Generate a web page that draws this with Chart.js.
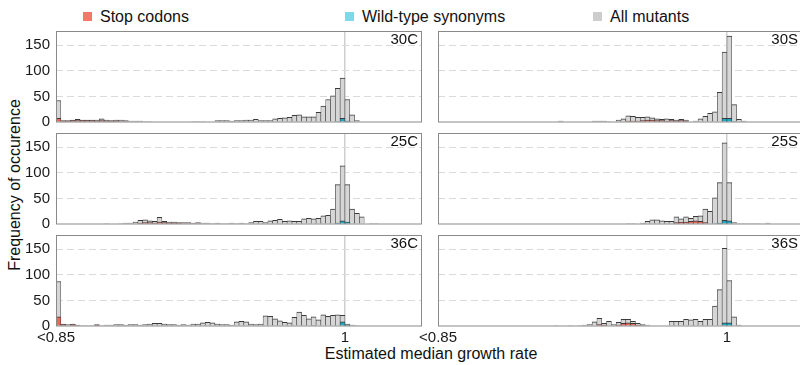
<!DOCTYPE html>
<html>
<head>
<meta charset="utf-8">
<title>Estimated median growth rate histograms</title>
<script src="https://cdn.jsdelivr.net/npm/chart.js@4.4.1/dist/chart.umd.min.js"></script>
<style>
  html, body { margin: 0; padding: 0; background: #fff; }
  body { position: relative; width: 800px; height: 365px; overflow: hidden;
         font-family: 'Liberation Sans', Arial, Helvetica, sans-serif; color: #111; }
  canvas { position: absolute; }
  .key { position: absolute; top: 8px; font-size: 16px; line-height: 18px; white-space: nowrap; }
  .key i { display: inline-block; width: 9px; height: 9px; margin-right: 8px; vertical-align: 1px; }
  .tag { position: absolute; width: 40px; font-size: 15px; line-height: 16px; text-align: right; }
  #ytitle { position: absolute; left: 15px; top: 185px; font-size: 16px; white-space: nowrap;
            transform: translate(-50%, -50%) rotate(-90deg); }
  #xtitle { position: absolute; left: 431px; top: 354px; font-size: 16px; white-space: nowrap;
            transform: translate(-50%, -50%); }
</style>
</head>
<body>
<div id="ytitle">Frequency of occurence</div>
<div id="xtitle">Estimated median growth rate</div>
<script>
// histogram bins: 0.0025 wide from 0.85 (first bin holds everything below 0.85)
const binStart = 0.85;
const binWidth = 0.0025;
const xMax = 1.04;
const xTicks = [0.85, 1];
const xTickLabels = ['<0.85', '1'];
const yTicks = [0, 50, 100, 150];
const yMax = 178;
const seriesNames = ['Stop codons', 'Wild-type synonyms', 'All mutants'];

// counts per bin (76 bins)
const allMutants30C = [
  42, 3, 3, 4, 5, 4, 4, 4, 4, 6,
  4, 3, 4, 4, 3, 2, 2, 2, 1, 1,
  0, 0, 0, 0, 0, 0, 0, 0, 1, 1,
  1, 0, 0, 3, 3, 3, 2, 3, 3, 4,
  4, 5, 3, 3, 3, 6, 7, 8, 9, 13,
  14, 10, 10, 10, 19, 31, 44, 51, 66, 86,
  44, 14, 3, 0, 0, 0, 0, 0, 0, 0,
  0, 0, 0, 0, 0, 0];
const stopCodons30C = [
  7, 2, 2, 3, 3, 3, 3, 3, 2, 3,
  2, 2, 2, 1, 1, 0, 0, 0, 0, 0,
  0, 0, 0, 0, 0, 0, 0, 0, 0, 0,
  0, 0, 0, 0, 0, 0, 0, 0, 0, 0,
  0, 0, 0, 0, 0, 0, 0, 0, 0, 0,
  0, 0, 0, 0, 0, 0, 0, 0, 0, 0,
  0, 0, 0, 0, 0, 0, 0, 0, 0, 0,
  0, 0, 0, 0, 0, 0];
const wildType30C = [
  0, 0, 0, 0, 0, 0, 0, 0, 0, 0,
  0, 0, 0, 0, 0, 0, 0, 0, 0, 0,
  0, 0, 0, 0, 0, 0, 0, 0, 0, 0,
  0, 0, 0, 0, 0, 0, 0, 0, 0, 0,
  0, 0, 0, 0, 0, 0, 0, 0, 0, 0,
  0, 0, 0, 0, 0, 0, 0, 0, 1, 7,
  2, 0, 0, 0, 0, 0, 0, 0, 0, 0,
  0, 0, 0, 0, 0, 0];

const allMutants30S = [
  0, 0, 0, 0, 0, 0, 0, 0, 0, 0,
  0, 0, 0, 0, 0, 0, 0, 0, 0, 0,
  0, 0, 0, 0, 0, 2, 0, 0, 0, 0,
  0, 0, 2, 2, 2, 1, 0, 4, 6, 12,
  11, 9, 9, 10, 8, 6, 5, 6, 5, 4,
  5, 4, 0, 2, 6, 11, 17, 20, 58, 137,
  168, 34, 5, 2, 0, 0, 0, 0, 0, 0,
  0, 0, 0, 0, 0, 0];
const stopCodons30S = [
  0, 0, 0, 0, 0, 0, 0, 0, 0, 0,
  0, 0, 0, 0, 0, 0, 0, 0, 0, 0,
  0, 0, 0, 0, 0, 0, 0, 0, 0, 0,
  0, 0, 0, 0, 0, 0, 0, 0, 0, 2,
  2, 2, 3, 4, 4, 3, 3, 2, 3, 2,
  3, 2, 0, 0, 0, 0, 0, 0, 0, 0,
  0, 0, 0, 0, 0, 0, 0, 0, 0, 0,
  0, 0, 0, 0, 0, 0];
const wildType30S = [
  0, 0, 0, 0, 0, 0, 0, 0, 0, 0,
  0, 0, 0, 0, 0, 0, 0, 0, 0, 0,
  0, 0, 0, 0, 0, 0, 0, 0, 0, 0,
  0, 0, 0, 0, 0, 0, 0, 0, 0, 0,
  0, 0, 0, 0, 0, 0, 0, 0, 0, 0,
  0, 0, 0, 0, 0, 0, 0, 0, 0, 7,
  7, 1, 0, 0, 0, 0, 0, 0, 0, 0,
  0, 0, 0, 0, 0, 0];

const allMutants25C = [
  0, 0, 0, 0, 0, 0, 0, 0, 0, 0,
  1, 0, 0, 1, 2, 2, 4, 7, 8, 6,
  5, 13, 5, 4, 4, 3, 3, 3, 2, 3,
  2, 2, 1, 2, 1, 1, 2, 1, 2, 1,
  3, 5, 5, 3, 6, 7, 9, 5, 6, 5,
  5, 10, 11, 10, 11, 16, 17, 29, 77, 114,
  77, 29, 21, 14, 0, 1, 1, 0, 0, 0,
  0, 0, 0, 0, 0, 0];
const stopCodons25C = [
  0, 0, 0, 0, 0, 0, 0, 0, 0, 0,
  0, 0, 0, 0, 0, 0, 0, 2, 3, 3,
  2, 4, 3, 2, 2, 2, 1, 1, 1, 1,
  0, 0, 0, 0, 0, 0, 0, 0, 0, 0,
  0, 0, 0, 0, 0, 0, 0, 0, 0, 0,
  0, 0, 0, 0, 0, 0, 0, 0, 0, 0,
  0, 0, 0, 0, 0, 0, 0, 0, 0, 0,
  0, 0, 0, 0, 0, 0];
const wildType25C = [
  0, 0, 0, 0, 0, 0, 0, 0, 0, 0,
  0, 0, 0, 0, 0, 0, 0, 0, 0, 0,
  0, 0, 0, 0, 0, 0, 0, 0, 0, 0,
  0, 0, 0, 0, 0, 0, 0, 0, 0, 0,
  0, 0, 0, 0, 0, 0, 0, 0, 0, 0,
  0, 0, 0, 0, 0, 0, 0, 0, 2, 6,
  4, 0, 0, 0, 0, 0, 0, 0, 0, 0,
  0, 0, 0, 0, 0, 0];

const allMutants25S = [
  0, 0, 0, 0, 0, 0, 0, 0, 0, 0,
  0, 0, 0, 0, 0, 0, 0, 0, 0, 0,
  0, 0, 0, 0, 0, 0, 0, 0, 0, 0,
  0, 0, 0, 0, 0, 0, 0, 0, 0, 1,
  1, 0, 2, 5, 8, 8, 6, 5, 5, 14,
  10, 14, 11, 15, 16, 29, 25, 51, 81, 159,
  81, 3, 1, 1, 1, 1, 1, 0, 2, 0,
  0, 0, 0, 0, 0, 0];
const stopCodons25S = [
  0, 0, 0, 0, 0, 0, 0, 0, 0, 0,
  0, 0, 0, 0, 0, 0, 0, 0, 0, 0,
  0, 0, 0, 0, 0, 0, 0, 0, 0, 0,
  0, 0, 0, 0, 0, 0, 0, 0, 0, 0,
  0, 0, 0, 0, 0, 0, 0, 0, 0, 3,
  4, 4, 5, 6, 5, 3, 0, 0, 0, 0,
  0, 0, 0, 0, 0, 0, 0, 0, 0, 0,
  0, 0, 0, 0, 0, 0];
const wildType25S = [
  0, 0, 0, 0, 0, 0, 0, 0, 0, 0,
  0, 0, 0, 0, 0, 0, 0, 0, 0, 0,
  0, 0, 0, 0, 0, 0, 0, 0, 0, 0,
  0, 0, 0, 0, 0, 0, 0, 0, 0, 0,
  0, 0, 0, 0, 0, 0, 0, 0, 0, 0,
  0, 0, 0, 0, 0, 0, 0, 1, 2, 7,
  6, 0, 0, 0, 0, 0, 0, 0, 0, 0,
  0, 0, 0, 0, 0, 0];

const allMutants36C = [
  87, 4, 3, 4, 2, 1, 1, 1, 3, 1,
  2, 2, 3, 3, 2, 3, 3, 2, 3, 4,
  5, 5, 4, 3, 3, 2, 3, 2, 4, 4,
  6, 7, 6, 4, 3, 3, 2, 8, 9, 8,
  4, 3, 4, 20, 19, 14, 10, 7, 6, 17,
  27, 21, 14, 18, 12, 22, 19, 21, 22, 21,
  4, 2, 1, 0, 0, 0, 0, 0, 0, 0,
  0, 0, 0, 0, 0, 0];
const stopCodons36C = [
  18, 3, 0, 3, 1, 0, 0, 0, 2, 0,
  0, 0, 0, 0, 0, 0, 0, 0, 0, 0,
  0, 0, 0, 0, 0, 0, 0, 0, 0, 0,
  0, 0, 0, 0, 0, 0, 0, 0, 0, 0,
  0, 0, 0, 0, 0, 0, 0, 0, 0, 0,
  0, 0, 0, 0, 0, 0, 0, 0, 0, 0,
  0, 0, 0, 0, 0, 0, 0, 0, 0, 0,
  0, 0, 0, 0, 0, 0];
const wildType36C = [
  0, 0, 0, 0, 0, 0, 0, 0, 0, 0,
  0, 0, 0, 0, 0, 0, 0, 0, 0, 0,
  0, 0, 0, 0, 0, 0, 0, 0, 0, 0,
  0, 0, 0, 0, 0, 0, 0, 0, 0, 0,
  0, 0, 0, 0, 0, 0, 0, 0, 0, 0,
  0, 0, 0, 1, 0, 0, 0, 0, 0, 8,
  2, 0, 0, 0, 0, 0, 0, 0, 0, 0,
  0, 0, 0, 0, 0, 0];

const allMutants36S = [
  0, 0, 0, 0, 0, 0, 0, 0, 0, 0,
  0, 0, 0, 0, 0, 0, 0, 0, 0, 0,
  0, 0, 0, 0, 1, 0, 0, 1, 0, 1,
  2, 3, 8, 15, 5, 9, 3, 7, 13, 13,
  9, 5, 3, 2, 0, 0, 0, 0, 9, 9,
  9, 13, 12, 13, 9, 13, 13, 39, 71, 152,
  89, 18, 2, 0, 0, 0, 0, 0, 0, 0,
  0, 0, 0, 0, 0, 0];
const stopCodons36S = [
  0, 0, 0, 0, 0, 0, 0, 0, 0, 0,
  0, 0, 0, 0, 0, 0, 0, 0, 0, 0,
  0, 0, 0, 0, 0, 0, 0, 0, 0, 0,
  0, 0, 0, 3, 2, 0, 0, 2, 5, 6,
  5, 2, 1, 0, 0, 0, 0, 0, 0, 0,
  0, 0, 0, 0, 0, 0, 0, 0, 0, 0,
  0, 0, 0, 0, 0, 0, 0, 0, 0, 0,
  0, 0, 0, 0, 0, 0];
const wildType36S = [
  0, 0, 0, 0, 0, 0, 0, 0, 0, 0,
  0, 0, 0, 0, 0, 0, 0, 0, 0, 0,
  0, 0, 0, 0, 0, 0, 0, 0, 0, 0,
  0, 0, 0, 0, 0, 0, 0, 0, 0, 0,
  0, 0, 0, 0, 0, 0, 0, 0, 0, 0,
  0, 0, 0, 0, 0, 0, 0, 0, 0, 6,
  6, 0, 0, 0, 0, 0, 0, 0, 0, 0,
  0, 0, 0, 0, 0, 0];

const panels = [
  { name: '30C', row: 0, col: 0, all: allMutants30C, stop: stopCodons30C, wt: wildType30C },
  { name: '30S', row: 0, col: 1, all: allMutants30S, stop: stopCodons30S, wt: wildType30S },
  { name: '25C', row: 1, col: 0, all: allMutants25C, stop: stopCodons25C, wt: wildType25C },
  { name: '25S', row: 1, col: 1, all: allMutants25S, stop: stopCodons25S, wt: wildType25S },
  { name: '36C', row: 2, col: 0, all: allMutants36C, stop: stopCodons36C, wt: wildType36C },
  { name: '36S', row: 2, col: 1, all: allMutants36S, stop: stopCodons36S, wt: wildType36S },
];

const fills = ['#e8685a', '#1ea8c1', '#d6d6d6'];
const keyColors = ['#f7776b', '#7fd8e8', '#cdcdcd'];
const edgeColor = '#3a3a3a';
const fontFamily = "'Liberation Sans', Arial, Helvetica, sans-serif";

// layout (pixels)
const plotTops = [31, 133, 235];
const plotHeight = 91;
const padTop = 16;
const cols = [
  { left: 0, width: 430, axisWidth: 56, padRight: 8, showY: true, tagRight: 418 },
  { left: 410, width: 400, axisWidth: 28, padRight: 6, showY: false, tagRight: 798 },
];
const keyLefts = [83, 345, 593];

const binCenters = allMutants30C.map((_, i) => +(binStart + binWidth * (i + 0.5)).toFixed(5));

function toPoints(counts) {
  return counts.map((v, i) => ({ x: binCenters[i], y: v > 0 ? v : null }));
}

// legend
seriesNames.forEach((name, i) => {
  const key = document.createElement('div');
  key.className = 'key';
  key.style.left = keyLefts[i] + 'px';
  key.innerHTML = '<i style="background:' + keyColors[i] + '"></i>' + name;
  document.body.appendChild(key);
});

const panelFrame = {
  id: 'panelFrame',
  afterDraw(chart) {
    const { ctx, chartArea: a } = chart;
    ctx.save();
    ctx.strokeStyle = '#8a8a8a';
    ctx.lineWidth = 1;
    ctx.strokeRect(Math.round(a.left) + 0.5, Math.round(a.top) + 0.5,
                   Math.round(a.right - a.left) - 1, Math.round(a.bottom - a.top) - 0.5);
    ctx.restore();
  }
};

panels.forEach(p => {
  const c = cols[p.col];
  const bottomRow = p.row === 2;
  const xAxisHeight = bottomRow ? 30 : 0;
  const padBottom = bottomRow ? 0 : 16;

  const canvas = document.createElement('canvas');
  canvas.width = c.width;
  canvas.height = padTop + plotHeight + xAxisHeight + padBottom;
  canvas.style.left = c.left + 'px';
  canvas.style.top = (plotTops[p.row] - padTop) + 'px';
  document.body.appendChild(canvas);

  const barStyle = (i) => ({
    label: seriesNames[i],
    backgroundColor: fills[i],
    borderColor: edgeColor,
    borderWidth: { top: 1, right: 0.6, bottom: 0, left: 0.6 },
    grouped: false,
    barPercentage: 1,
    categoryPercentage: 1,
  });

  new Chart(canvas, {
    type: 'bar',
    data: {
      datasets: [
        Object.assign(barStyle(0), { data: toPoints(p.stop) }),
        Object.assign(barStyle(1), { data: toPoints(p.wt) }),
        Object.assign(barStyle(2), { data: toPoints(p.all) }),
      ]
    },
    options: {
      responsive: false,
      animation: false,
      events: [],
      devicePixelRatio: 1,
      layout: { padding: { left: 0, right: c.padRight, top: padTop, bottom: padBottom } },
      plugins: { legend: { display: false }, tooltip: { enabled: false } },
      scales: {
        x: {
          type: 'linear',
          min: binStart,
          max: xMax,
          offset: false,
          afterBuildTicks: s => { s.ticks = xTicks.map(v => ({ value: v })); },
          afterFit: s => { s.height = xAxisHeight; },
          grid: {
            offset: false,
            drawTicks: false,
            lineWidth: 1.5,
            color: ctx => (ctx.tick && ctx.tick.value === 1) ? '#cfcfcf' : 'rgba(0,0,0,0)',
          },
          border: { display: false },
          ticks: {
            display: bottomRow,
            padding: 3,
            maxRotation: 0,
            autoSkip: false,
            color: '#1a1a1a',
            font: { family: fontFamily, size: 15 },
            callback: (v, i) => xTickLabels[i],
          },
        },
        y: {
          min: 0,
          max: yMax,
          afterBuildTicks: s => { s.ticks = yTicks.map(v => ({ value: v })); },
          afterFit: s => { s.width = c.axisWidth; },
          grid: {
            drawTicks: false,
            lineWidth: 1,
            color: ctx => (ctx.tick && ctx.tick.value === 0) ? 'rgba(0,0,0,0)' : '#dadada',
          },
          border: { display: false, dash: [7, 4] },
          ticks: {
            display: c.showY,
            padding: 6,
            color: '#1a1a1a',
            font: { family: fontFamily, size: 15 },
          },
        },
      },
    },
    plugins: [panelFrame],
  });

  const tag = document.createElement('div');
  tag.className = 'tag';
  tag.textContent = p.name;
  tag.style.left = (c.tagRight - 40) + 'px';
  tag.style.top = plotTops[p.row] + 'px';
  document.body.appendChild(tag);
});
</script>
</body>
</html>
